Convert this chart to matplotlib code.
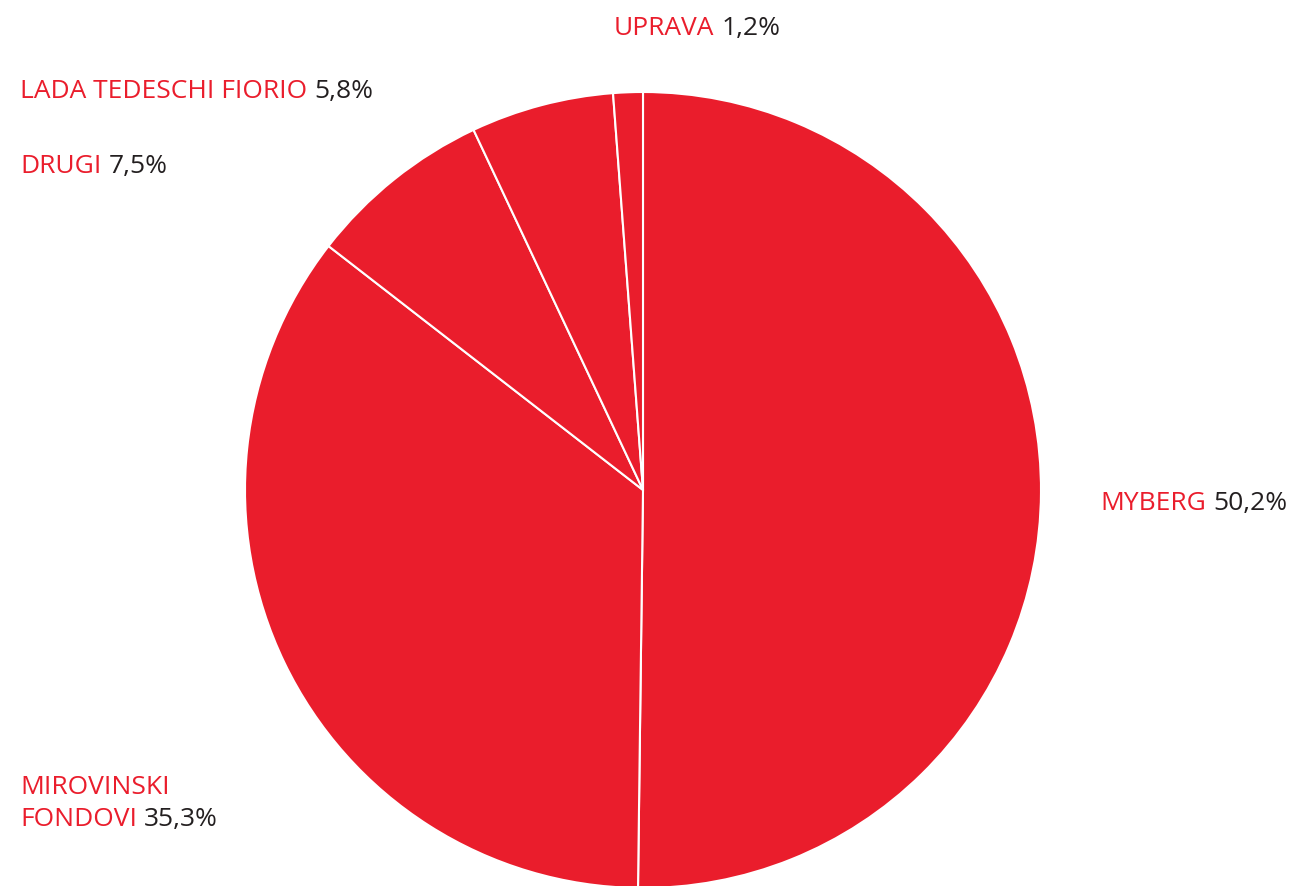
import matplotlib.pyplot as plt

# shareholder structure
labels = ['MYBERG', 'MIROVINSKI\nFONDOVI', 'DRUGI', 'LADA TEDESCHI FIORIO', 'UPRAVA']
shares = [50.2, 35.3, 7.5, 5.8, 1.2]
value_text = ['50,2%', '35,3%', '7,5%', '5,8%', '1,2%']

red = '#EA1D2C'
dark = '#231F20'

plt.rcParams['font.family'] = ['Open Sans', 'DejaVu Sans']

fig = plt.figure(figsize=(12.91, 8.86), dpi=100)
ax = fig.add_axes([245 / 1291, -2 / 886, 796 / 1291, 796 / 886])

ax.pie(shares, startangle=90, counterclock=False, colors=[red] * len(shares),
       wedgeprops=dict(edgecolor='white', linewidth=1.5))
ax.set_xlim(-1, 1)
ax.set_ylim(-1, 1)
ax.set_aspect('equal')

# label positions (left x, baseline y of last line) in pixels
label_pos = [(1100, 510), (20, 826), (20, 173), (20, 98), (614, 35)]
line_gap = 32

for lab, val, (px, py) in zip(labels, value_text, label_pos):
    lines = lab.split('\n')
    # earlier lines stacked above the last one
    for k, ln in enumerate(lines[:-1]):
        off = (len(lines) - 1 - k) * line_gap
        fig.text(px / 1291, 1 - (py - off) / 886, ln, color=red, fontsize=19,
                 ha='left', va='baseline')
    t = fig.text(px / 1291, 1 - py / 886, lines[-1], color=red, fontsize=19,
                 ha='left', va='baseline')
    ax.annotate(val, xy=(1, 0), xycoords=t, xytext=(5, 0), textcoords='offset points',
                color=dark, fontsize=19, ha='left', va='bottom',
                annotation_clip=False)

fig.savefig('out.png', dpi=100)
